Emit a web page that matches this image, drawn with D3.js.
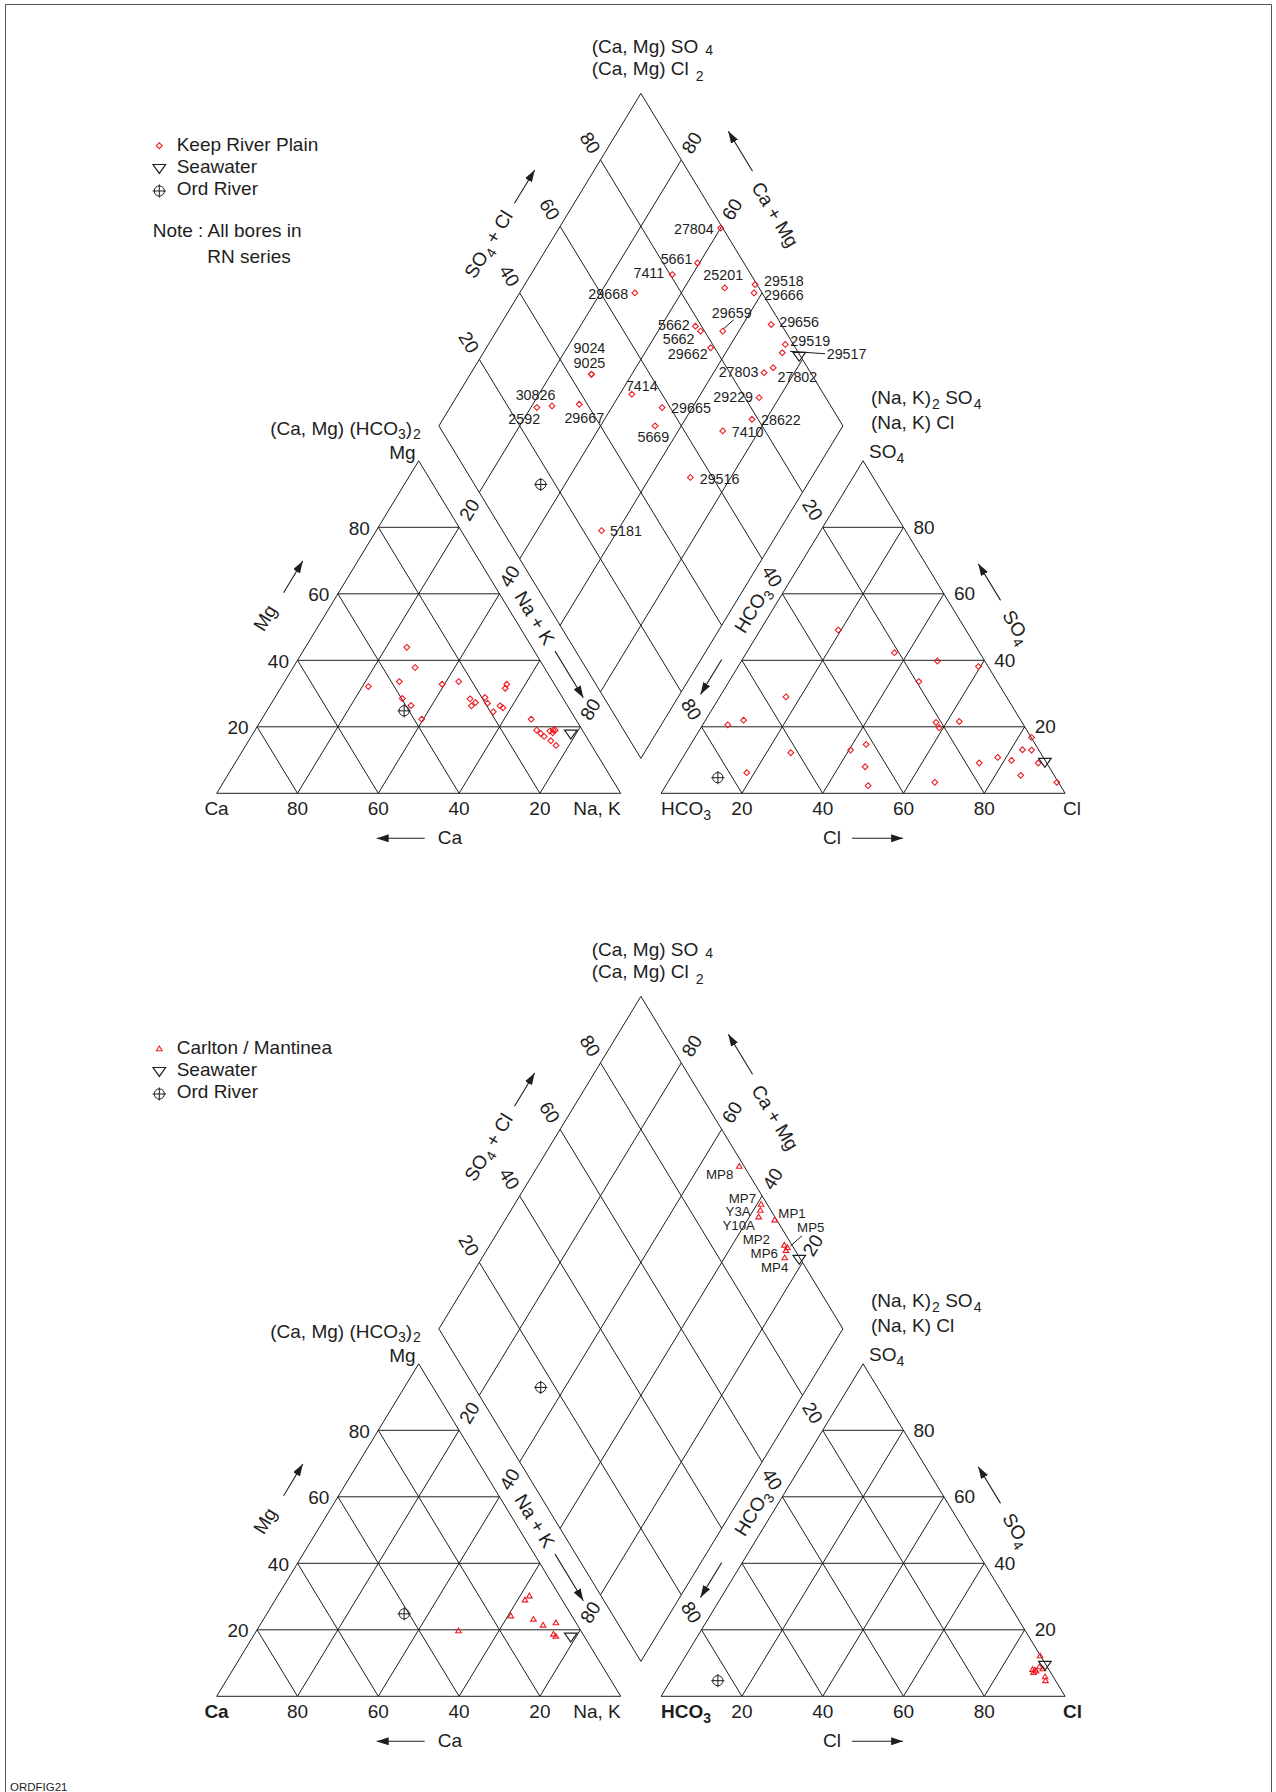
<!DOCTYPE html>
<html>
<head>
<meta charset="utf-8">
<title>Piper diagrams – Keep River Plain and Carlton / Mantinea</title>
<script src="https://cdn.jsdelivr.net/npm/d3@7/dist/d3.min.js"></script>
<style>
  html, body { margin: 0; padding: 0; background: #fff; }
  svg { display: block; }
  text { font-family: "Liberation Sans", Arial, Helvetica, sans-serif; fill: #1e1e1e; }
</style>
</head>
<body>
<svg id="chart" width="1276" height="1792"></svg>
<script>
// ---------------- data ----------------
const gridTicks = [20, 40, 60, 80];

// Keep River Plain bores – cation triangle: [Mg %, Na+K %]
const keepCations = [
  [43.9, 25.1], [37.8, 30.2], [32.1, 21.5], [33.6, 28.4], [32.8, 39.4], [33.6, 43.1],
  [32.8, 55.4], [31.6, 55.6], [28.5, 31.7], [26.4, 34.9], [28.4, 48.5], [27.3, 50.4],
  [26.3, 49.9], [28.8, 52.0], [27.1, 53.5], [24.5, 56.2], [26.3, 57.0], [25.7, 58.0],
  [22.3, 39.6], [22.3, 66.7], [19.0, 69.7], [18.0, 71.2], [17.1, 72.5], [18.7, 73.1],
  [19.0, 73.8], [19.0, 74.3], [15.8, 74.8], [14.4, 76.8], [18.2, 74.1]
];
// Keep River Plain bores – anion triangle: [SO4 %, Cl %]
const keepAnions = [
  [49.1, 19.3], [42.3, 36.6], [39.8, 48.5], [38.1, 59.5], [33.6, 47.0], [29.0, 16.4],
  [20.6, 6.2], [22.0, 9.4], [21.3, 57.4], [19.7, 59.0], [21.6, 63.0], [16.8, 83.3],
  [13.0, 40.4], [14.7, 43.4], [12.2, 26.0], [13.1, 82.9], [13.0, 85.2], [8.0, 46.5],
  [9.1, 74.2], [10.8, 77.9], [9.9, 81.8], [9.1, 88.8], [6.2, 18.1], [2.3, 50.1],
  [3.3, 66.1], [5.4, 86.3], [3.3, 96.3]
];
// Keep River Plain bores – diamond: [bore, Na+K %, SO4+Cl %]
const keepBores = [
  ["27804", 40.0, 99.5], ["5661", 39.5, 88.5], ["7411", 35.0, 80.5], ["25201", 50.0, 91.5],
  ["29518", 57.0, 99.5], ["29666", 58.0, 98.0], ["29668", 28.5, 68.5], ["29659", 56.0, 84.5],
  ["5662", 48.5, 78.5], ["5662", 50.5, 79.0], ["29662", 55.5, 79.0], ["29656", 67.0, 97.5],
  ["29519", 73.5, 98.0], ["29517", 74.0, 96.0], ["27803", 72.5, 88.5], ["27802", 74.0, 91.5],
  ["9024", 30.0, 45.5], ["9025", 30.0, 45.5], ["30826", 25.0, 31.0], ["2592", 21.5, 27.0],
  ["29667", 31.5, 38.0], ["7414", 43.0, 52.5], ["29665", 52.5, 58.0], ["5669", 53.5, 53.5],
  ["29229", 75.0, 83.5], ["28622", 76.5, 78.5], ["7410", 71.0, 69.5], ["29516", 70.0, 54.5],
  ["5181", 56.0, 24.5]
];

// Carlton / Mantinea bores
const carltonCations = [
  [19.7, 50.0], [24.2, 60.7], [29.0, 61.8], [30.2, 62.3], [23.2, 66.8],
  [21.4, 70.1], [22.1, 72.9], [18.7, 74.0], [18.1, 74.9]
];
const carltonAnions = [
  [12.2, 87.7], [8.1, 87.9], [7.9, 88.6], [7.2, 88.6], [8.9, 89.2],
  [8.3, 90.3], [5.9, 92.1], [4.7, 92.8], [7.6, 89.0]
];
const carltonBores = [
  ["MP8", 49.9, 98.8], ["MP7", 61.0, 98.5], ["Y3A", 61.7, 97.4], ["Y10A", 62.3, 96.0],
  ["MP1", 66.7, 99.5], ["MP2", 72.9, 98.1], ["MP5", 74.0, 98.5], ["MP6", 74.1, 97.7],
  ["MP4", 74.9, 96.3]
];

// Reference waters: cations [Mg, Na+K], anions [SO4, Cl]
const seawater = { cation: [17.7, 78.8], anion: [9.2, 90.4] };
const ordRiver = { cation: [24.8, 34.0], anion: [4.7, 11.7] };

// ---------------- label placement (pixels from the plotted point) ----------------
// [dx, dy, text-anchor, optional leader line [x1, y1, x2, y2]]
const keepLabelLayout = [
  [-7, 6, "end"], [-5, 1, "end"], [-8, 3.6, "end"], [-1.5, -7.6, "middle"],
  [9, 1.7, "start"], [10, 6.7, "start"], [-6.7, 5.7, "end"], [9, -13, "middle", [1, -2.5, 11, -11.3]],
  [-5.7, 3.7, "end"], [-6, 12.7, "end"], [-3, 11.7, "end"], [8, 2.4, "start"],
  [5, 1.4, "start"], [44.4, 6.3, "start", [7.7, -1.4, 42.7, 1]], [-5.7, 4, "end"], [4.3, 14, "start"],
  [-2, -21, "middle"], [-2, -6.7, "middle"], [3.4, -5.7, "end"], [3.3, 16.7, "end"],
  [5, 18.3, "middle"], [10, -3.4, "middle"], [9, 5, "start"], [-1.7, 16.6, "middle"],
  [-6, 4, "end"], [9, 5.4, "start"], [9, 6, "start"], [9.3, 6.3, "start"],
  [8.6, 5.4, "start"]
];
const carltonLabelLayout = [
  [-6, 13, "end"], [-5, -0.8, "end"], [-9.6, 5.8, "end"], [-3.7, 13.5, "end"],
  [3.7, -2, "start"], [-14.3, -0.7, "end"], [9.7, -15, "start", [3, -1.3, 14.7, -11.7]],
  [-8, 7.3, "end"], [3.6, 14.7, "end"]
];

// ---------------- geometry ----------------
// u runs along the base (triangle side = 1), h is measured in triangle heights
const GAP = 0.1, GAP_H = 0.105;
const ux = d3.scaleLinear().domain([0, 1]).range([216.7, 620.7]);
const hy = d3.scaleLinear().domain([0, 1]).range([793.3, 460.8]);
const cat = (mg, nak) => [ux((nak + mg / 2) / 100), hy(mg / 100)];
const ani = (so4, cl) => [ux(1 + GAP + (cl + so4 / 2) / 100), hy(so4 / 100)];
const dia = (nak, a) => [ux(0.5 + GAP / 2 + (a + nak) / 200), hy(1 + GAP_H + (a - nak) / 100)];
const EDGE_DEG = Math.atan2(hy(0) - hy(1), ux(0.5) - ux(0)) * 180 / Math.PI;

const RED = "#ee1c24", INK = "#1e1e1e";
const FS = 19;

const svg = d3.select("#chart");
svg.append("rect").attr("width", 1276).attr("height", 1792).attr("fill", "#fff");

const defs = svg.append("defs");
defs.append("marker").attr("id", "head").attr("viewBox", "0 0 12 8")
  .attr("refX", 12).attr("refY", 4).attr("markerWidth", 12).attr("markerHeight", 8)
  .attr("markerUnits", "userSpaceOnUse").attr("orient", "auto")
  .append("path").attr("d", "M0,0L12,4L0,8Z").attr("fill", INK);

// page frame and figure id
svg.append("path").attr("d", "M5.5,1800V4.5H1271.5V1800")
  .attr("fill", "none").attr("stroke", "#555").attr("stroke-width", 1);
svg.append("text").attr("x", 10).attr("y", 1790.5).attr("font-size", 11.5).text("ORDFIG21");

// ---------------- helpers ----------------
function along(p, q, t, off) {
  const dx = q[0] - p[0], dy = q[1] - p[1], L = Math.hypot(dx, dy);
  return [p[0] + t * dx + off * dy / L, p[1] + t * dy - off * dx / L];
}
// point beyond q on the line p -> q, d pixels past q
function beyond(p, q, d) {
  const dx = q[0] - p[0], dy = q[1] - p[1], L = Math.hypot(dx, dy);
  return [q[0] + dx / L * d, q[1] + dy / L * d];
}
const mid = (a, b) => [(a[0] + b[0]) / 2, (a[1] + b[1]) / 2];

function line(g, p, q, extra) {
  const l = g.append("line").attr("x1", p[0]).attr("y1", p[1]).attr("x2", q[0]).attr("y2", q[1])
    .attr("stroke", INK).attr("stroke-width", 1);
  if (extra) extra(l);
  return l;
}
function arrow(g, p, q) {
  return line(g, p, q, l => l.attr("marker-end", "url(#head)").attr("stroke-width", 1.1));
}

// parts: array of [text, "sub"?, dx?]
function txt(g, pos, parts, o = {}) {
  const size = o.size || FS;
  const t = g.append("text")
    .attr("transform", `translate(${pos[0]},${pos[1]})` + (o.rotate ? ` rotate(${o.rotate})` : ""))
    .attr("text-anchor", o.anchor || "start")
    .attr("font-size", size);
  if (o.weight) t.attr("font-weight", o.weight);
  const list = typeof parts === "string" ? [[parts]] : parts;
  let shift = o.center ? -0.35 * size : 0;
  list.forEach(([s, kind, dx]) => {
    const target = kind === "sub" ? (o.subDrop || 5) : 0;
    const ts = t.append("tspan").attr("dy", target - shift).text(s);
    if (dx) ts.attr("dx", dx);
    if (kind === "sub") ts.attr("font-size", size * 0.74);
    shift = target;
  });
  return t;
}

// point symbols
const SYM = {
  diamond: "M0,-2.9L2.9,0L0,2.9L-2.9,0Z",
  triUp: "M0,-2.7L2.8,2.0L-2.8,2.0Z",
  seawater: "M-6.3,-4.3L6.3,-4.3L0,4.6Z"
};
function ordSymbol(g, p) {
  const s = g.append("g").attr("transform", `translate(${p[0]},${p[1]})`)
    .attr("fill", "none").attr("stroke", INK).attr("stroke-width", 1);
  s.append("circle").attr("r", 5.1);
  s.append("path").attr("d", "M-6.6,0H6.6M0,-6.6V6.6");
}
function seaSymbol(g, p) {
  g.append("path").attr("d", SYM.seawater).attr("transform", `translate(${p[0]},${p[1]})`)
    .attr("fill", "none").attr("stroke", INK).attr("stroke-width", 1.2);
}

// ---------------- one Piper diagram ----------------
function drawPiper(top, cfg) {
  const g = svg.append("g").attr("transform", `translate(0,${top})`);
  const grid = g.append("g");

  // corners
  const Ca = cat(0, 0), NaK = cat(0, 100), MgTop = cat(100, 0);
  const HCO3 = ani(0, 0), Cl = ani(0, 100), SO4Top = ani(100, 0);
  const L = dia(0, 0), T = dia(0, 100), R = dia(100, 100), B = dia(100, 0);

  // outlines
  grid.append("path").attr("fill", "none").attr("stroke", INK).attr("stroke-width", 1)
    .attr("d", [[Ca, NaK, MgTop], [HCO3, Cl, SO4Top], [L, T, R, B]]
      .map(poly => "M" + poly.map(p => p.join(",")).join("L") + "Z").join(""));

  // internal grid lines
  gridTicks.forEach(k => {
    line(grid, cat(k, 0), cat(k, 100 - k));
    line(grid, cat(0, k), cat(100 - k, k));
    line(grid, cat(0, 100 - k), cat(100 - k, 0));
    line(grid, ani(k, 0), ani(k, 100 - k));
    line(grid, ani(0, k), ani(100 - k, k));
    line(grid, ani(0, 100 - k), ani(100 - k, 0));
    line(grid, dia(k, 0), dia(k, 100));
    line(grid, dia(0, k), dia(100, k));
  });

  const lab = g.append("g");
  const bold = cfg.boldCorners ? "bold" : null;

  // names of the diamond and triangle corners
  txt(lab, [T[0] - 49.2, T[1] - 40.1], [["(Ca, Mg) SO"], ["4", "sub", 7]], { subDrop: 1.5 });
  txt(lab, [T[0] - 49.2, T[1] - 18.4], [["(Ca, Mg) Cl"], ["2", "sub", 7]], { subDrop: 6 });
  txt(lab, [L[0] - 18, L[1] + 9.5], [["(Ca, Mg) (HCO"], ["3", "sub"], [")"], ["2", "sub", 1]], { anchor: "end", subDrop: 4 });
  txt(lab, [R[0] + 28, R[1] - 22], [["(Na, K)"], ["2", "sub", 1], [" SO"], ["4", "sub", 1]]);
  txt(lab, [R[0] + 28, R[1] + 3], "(Na, K) Cl");
  txt(lab, [MgTop[0] - 3, MgTop[1] - 2], "Mg", { anchor: "end" });
  txt(lab, [SO4Top[0] + 6, SO4Top[1] - 3], [["SO"], ["4", "sub"]]);

  // cation triangle scales
  gridTicks.forEach(k => {
    const b = cat(0, 100 - k);
    txt(lab, [b[0], b[1] + 21.7], String(k), { anchor: "middle" });
    const e = cat(k, 0);
    txt(lab, [e[0] - 8.5, e[1] + 7.5], String(k), { anchor: "end" });
  });
  txt(lab, [Ca[0] + 12, Ca[1] + 21.7], "Ca", { anchor: "end", weight: bold });
  txt(lab, [NaK[0], NaK[1] + 21.7], "Na, K", { anchor: "end" });
  arrow(lab, [Ca[0] + 208, Ca[1] + 45], [Ca[0] + 160, Ca[1] + 45]);
  txt(lab, [Ca[0] + 221, Ca[1] + 51], "Ca");
  txt(lab, along(Ca, MgTop, 0.45, 50), "Mg", { anchor: "middle", rotate: -EDGE_DEG, center: true });
  arrow(lab, along(Ca, MgTop, 0.53, 47), along(Ca, MgTop, 0.625, 47));

  // anion triangle scales
  gridTicks.forEach(k => {
    const b = ani(0, k);
    txt(lab, [b[0], b[1] + 21.7], String(k), { anchor: "middle" });
    const e = ani(k, 100 - k);
    txt(lab, [e[0] + 10, e[1] + 6.5], String(k));
  });
  txt(lab, [HCO3[0], HCO3[1] + 21.7], [["HCO"], ["3", "sub"]], { weight: bold });
  txt(lab, [Cl[0] - 2, Cl[1] + 21.7], "Cl", { weight: bold });
  txt(lab, [Cl[0] - 242, Cl[1] + 51], "Cl");
  arrow(lab, [Cl[0] - 213, Cl[1] + 45], [Cl[0] - 162, Cl[1] + 45]);
  txt(lab, along(SO4Top, Cl, 0.57, 45), [["SO"], ["4", "sub"]], { anchor: "middle", rotate: EDGE_DEG, center: true });
  arrow(lab, along(SO4Top, Cl, 0.49, 45), along(SO4Top, Cl, 0.38, 45));

  // diamond scales: numbers sit on the continuation of the grid line they label
  gridTicks.forEach(k => {
    txt(lab, beyond(dia(100, k), dia(0, k), 20), String(k),
      { anchor: "middle", rotate: EDGE_DEG, center: true });
    if (k >= 60 || cfg.fullCaMgScale)
      txt(lab, beyond(dia(100 - k, 0), dia(100 - k, 100), 20), String(k),
        { anchor: "middle", rotate: -EDGE_DEG, center: true });
  });
  const nkA = mid(MgTop, L), nkB = mid(NaK, B);
  const hcA = mid(SO4Top, R), hcB = mid(HCO3, B);
  [20, 40, 80].forEach(k => {
    const p = [nkA[0] + (nkB[0] - nkA[0]) * k / 100, nkA[1] + (nkB[1] - nkA[1]) * k / 100];
    txt(lab, p, String(k), { anchor: "middle", rotate: -EDGE_DEG, center: true });
    const q = [hcA[0] + (hcB[0] - hcA[0]) * k / 100, hcA[1] + (hcB[1] - hcA[1]) * k / 100];
    txt(lab, q, String(k), { anchor: "middle", rotate: EDGE_DEG, center: true });
  });
  txt(lab, along(nkA, nkB, 0.525, 0), "Na + K", { anchor: "middle", rotate: EDGE_DEG, center: true });
  arrow(lab, along(nkA, nkB, 0.625, 0), along(nkA, nkB, 0.765, 0));
  txt(lab, along(hcA, hcB, 0.5, 0), [["HCO"], ["3", "sub"]], { anchor: "middle", rotate: -EDGE_DEG, center: true });
  arrow(lab, along(hcA, hcB, 0.65, 0), along(hcA, hcB, 0.755, 0));
  txt(lab, along(L, T, 0.465, 52), [["SO"], ["4", "sub"], [" + Cl"]], { anchor: "middle", rotate: -EDGE_DEG, center: true });
  arrow(lab, along(L, T, 0.59, 51), along(L, T, 0.69, 51));
  txt(lab, along(T, R, 0.445, 52), "Ca + Mg", { anchor: "middle", rotate: EDGE_DEG, center: true });
  arrow(lab, along(T, R, 0.32, 55), along(T, R, 0.2, 55));

  // samples
  const pts = g.append("g").attr("fill", "none").attr("stroke", RED).attr("stroke-width", 1.1);
  pts.selectAll("path.c").data(cfg.cations).join("path").attr("class", "c")
    .attr("d", cfg.symbol).attr("transform", d => `translate(${cat(d[0], d[1])})`);
  pts.selectAll("path.a").data(cfg.anions).join("path").attr("class", "a")
    .attr("d", cfg.symbol).attr("transform", d => `translate(${ani(d[0], d[1])})`);
  pts.selectAll("path.d").data(cfg.bores).join("path").attr("class", "d")
    .attr("d", cfg.symbol).attr("transform", d => `translate(${dia(d[1], d[2])})`);

  // bore labels
  const bl = g.append("g");
  cfg.bores.forEach((b, i) => {
    const [dx, dy, anchor, leader] = cfg.layout[i];
    const p = dia(b[1], b[2]);
    txt(bl, [p[0] + dx, p[1] + dy], b[0], { anchor, size: cfg.labelSize });
    if (leader) line(bl, [p[0] + leader[0], p[1] + leader[1]], [p[0] + leader[2], p[1] + leader[3]]);
  });

  // reference waters in all three fields
  [ordRiver, seawater].forEach((w, i) => {
    const draw = i === 0 ? ordSymbol : seaSymbol;
    draw(g, cat(w.cation[0], w.cation[1]));
    draw(g, ani(w.anion[0], w.anion[1]));
    draw(g, dia(w.cation[1], w.anion[0] + w.anion[1]));
  });

  // legend
  const lg = g.append("g");
  lg.append("path").attr("d", cfg.symbol).attr("transform", "translate(159.3,145.7)")
    .attr("fill", "none").attr("stroke", RED).attr("stroke-width", 1.1);
  seaSymbol(lg, [159.3, 168.8]);
  ordSymbol(lg, [159.3, 191]);
  txt(lg, [176.7, 150.7], cfg.name);
  txt(lg, [176.7, 172.7], "Seawater");
  txt(lg, [176.7, 195], "Ord River");
  if (cfg.note) {
    txt(lg, [152.7, 236.7], "Note : All bores in");
    txt(lg, [207.3, 262.7], "RN series");
  }
}

drawPiper(0, {
  name: "Keep River Plain", symbol: SYM.diamond, note: true, labelSize: 14.3,
  cations: keepCations, anions: keepAnions, bores: keepBores, layout: keepLabelLayout,
  fullCaMgScale: false, boldCorners: false
});
drawPiper(903, {
  name: "Carlton / Mantinea", symbol: SYM.triUp, note: false, labelSize: 13.3,
  cations: carltonCations, anions: carltonAnions, bores: carltonBores, layout: carltonLabelLayout,
  fullCaMgScale: true, boldCorners: true
});
</script>
</body>
</html>
